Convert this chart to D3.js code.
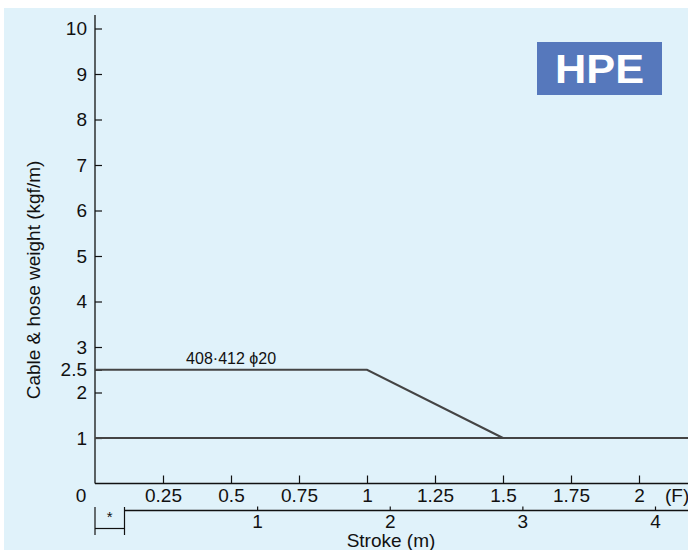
<!DOCTYPE html>
<html>
<head>
<meta charset="utf-8">
<script src="https://cdn.jsdelivr.net/npm/d3@7"></script>
<style>
  html, body { margin: 0; padding: 0; background: #ffffff; }
  svg { display: block; }
  text { font-family: "Liberation Sans", Arial, sans-serif; }
</style>
</head>
<body>
<svg id="chart" width="688" height="550"></svg>
<script>
// ---- data ----
const weightTicks = [1, 2, 2.5, 3, 4, 5, 6, 7, 8, 9, 10];
const fTicks = [0.25, 0.5, 0.75, 1, 1.25, 1.5, 1.75, 2];
const fTickLabels = ["0.25", "0.5", "0.75", "1", "1.25", "1.5", "1.75", "2"];
const strokeTicks = [1, 2, 3, 4];
const seriesBase = [[0, 1], [2.2, 1]];                // (F, kgf/m)
const series408 = [[0, 2.5], [1, 2.5], [1.5, 1]];      // (F, kgf/m)
const series408Label = "408·412 ϕ20";
const badgeText = "HPE";

const W = 688, H = 550;
const FS = 19;
const svg = d3.select("#chart");

// background panel
svg.append("rect").attr("x", 4).attr("y", 8).attr("width", W - 4).attr("height", H - 8)
  .attr("fill", "#e0f2fa");

const x = d3.scaleLinear().domain([0, 2]).range([95, 639]);
const y = d3.scaleLinear().domain([0, 10]).range([483.5, 28.5]);
const xs = d3.scaleLinear().domain([0, 4]).range([124.5, 655]);

const axisColor = "#111";
const styleText = sel => sel.attr("font-size", FS).attr("fill", "#111")
  .attr("font-family", "Liberation Sans, Arial, sans-serif");

// y axis
const gy = svg.append("g").attr("transform", `translate(${x(0)},0)`)
  .call(d3.axisLeft(y).tickValues(weightTicks).tickSize(-7).tickSizeOuter(0).tickPadding(8)
    .tickFormat(d => String(d)));
gy.select(".domain").remove();
gy.selectAll("line").attr("stroke", axisColor).attr("stroke-width", 1.2);
gy.selectAll("text").call(styleText);
svg.append("line").attr("x1", x(0)).attr("x2", x(0)).attr("y1", 15).attr("y2", y(0))
  .attr("stroke", axisColor).attr("stroke-width", 1.3);

// x axis (F)
const gx = svg.append("g").attr("transform", `translate(0,${y(0)})`)
  .call(d3.axisBottom(x).tickValues(fTicks).tickSize(-8).tickSizeOuter(0).tickPadding(5)
    .tickFormat((d, i) => fTickLabels[i]));
gx.select(".domain").remove();
gx.selectAll("line").attr("stroke", axisColor).attr("stroke-width", 1.2);
gx.selectAll("text").call(styleText);
svg.append("line").attr("x1", x(0)).attr("x2", W).attr("y1", y(0)).attr("y2", y(0))
  .attr("stroke", axisColor).attr("stroke-width", 1.3);
svg.append("text").attr("x", 81).attr("y", y(0) + 18.5).attr("text-anchor", "middle")
  .call(styleText).text("0");
svg.append("text").attr("x", 665).attr("y", y(0) + 18.5)
  .call(styleText).text("(F)");

// stroke axis
const sy = 510.5;
const gs = svg.append("g").attr("transform", `translate(0,${sy})`)
  .call(d3.axisBottom(xs).tickValues(strokeTicks).tickSize(-4).tickSizeOuter(0).tickPadding(3.5)
    .tickFormat(d => String(d)));
gs.select(".domain").remove();
gs.selectAll("line").attr("stroke", axisColor).attr("stroke-width", 1.2);
gs.selectAll("text").call(styleText);
svg.append("line").attr("x1", xs(0)).attr("x2", W).attr("y1", sy).attr("y2", sy)
  .attr("stroke", axisColor).attr("stroke-width", 1.3);

// "*" bracket
const br = svg.append("g").attr("stroke", axisColor).attr("stroke-width", 1.2);
br.append("line").attr("x1", x(0)).attr("x2", x(0)).attr("y1", 507).attr("y2", 535);
br.append("line").attr("x1", xs(0)).attr("x2", xs(0)).attr("y1", 507).attr("y2", 535);
br.append("line").attr("x1", x(0)).attr("x2", xs(0)).attr("y1", 528.5).attr("y2", 528.5);
svg.append("text").attr("x", (x(0) + xs(0)) / 2).attr("y", 522).attr("text-anchor", "middle")
  .attr("font-size", 15).attr("fill", "#111").text("*");

svg.append("text").attr("x", 391).attr("y", 547).attr("text-anchor", "middle")
  .call(styleText).text("Stroke (m)");

// y label
svg.append("text").attr("transform", "translate(40,280) rotate(-90)").attr("text-anchor", "middle")
  .call(styleText).text("Cable & hose weight (kgf/m)");

// series lines
svg.append("defs").append("clipPath").attr("id", "clip")
  .append("rect").attr("x", 0).attr("y", 0).attr("width", W).attr("height", H);
const line = d3.line().x(d => x(d[0])).y(d => y(d[1]));
[seriesBase, series408].forEach(s => {
  svg.append("path").attr("d", line(s)).attr("fill", "none").attr("stroke", "#444")
    .attr("stroke-width", 2).attr("clip-path", "url(#clip)");
});
svg.append("text").attr("x", x(0.335)).attr("y", y(2.5) - 6)
  .attr("font-size", 16).attr("fill", "#111").text(series408Label);

// badge
svg.append("rect").attr("x", 537).attr("y", 42).attr("width", 125).attr("height", 53)
  .attr("fill", "#5678bc");
svg.append("text").attr("x", 599.5).attr("y", 82.5).attr("text-anchor", "middle")
  .attr("font-size", 40).attr("font-weight", "bold").attr("fill", "#ffffff")
  .attr("textLength", 89).attr("lengthAdjust", "spacingAndGlyphs").text(badgeText);
</script>
</body>
</html>
